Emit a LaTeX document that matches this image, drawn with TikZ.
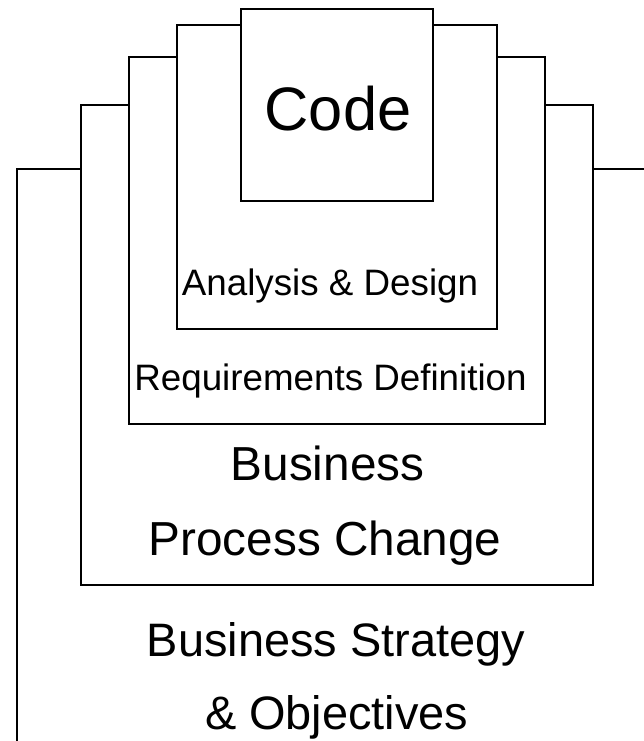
\documentclass[tikz,border=0pt]{standalone}
\usepackage{fontspec}
\setmainfont{Liberation Sans}
\tikzset{
  layer/.style={draw=black, line width=2bp, line join=miter},
  lbl/.style={anchor=base, inner sep=0pt, text=black},
  fs/.style={font=\fontsize{#1}{#1}\selectfont}
}
\begin{document}
\begin{tikzpicture}[x=1bp, y=-1bp]
\useasboundingbox (0,0) rectangle (644,741);
\clip (0,0) rectangle (644,741);
\fill[white] (0,0) rectangle (644,741);
% outermost layer
\draw[layer] (81,169) -- (17,169) -- (17,760);
\draw[layer] (593,169) -- (660,169);
% business process layer
\draw[layer] (129,105) -- (81,105) -- (81,585) -- (593,585) -- (593,105) -- (545,105);
% requirements layer
\draw[layer] (177,57) -- (129,57) -- (129,424) -- (545,424) -- (545,57) -- (497,57);
% analysis layer
\draw[layer] (241,25) -- (177,25) -- (177,329) -- (497,329) -- (497,25) -- (433,25);
% code box
\draw[layer] (241,9) rectangle (433,201);
\node[lbl, fs=61.6] (code) at (338,130) {Code};
\node[lbl, fs=36.9] (ad) at (330,295) {Analysis \& Design};
\node[lbl, fs=36.9] (rd) at (330.5,390) {Requirements Definition};
\node[lbl, fs=47.9] (bp1) at (327.5,480) {Business};
\node[lbl, fs=47.9] (bp2) at (325,555) {Process Change};
\node[lbl, fs=47.1] (bs1) at (336,656) {Business Strategy};
\node[lbl, fs=47.1] (bs2) at (336.7,729) {\& Objectives};
\end{tikzpicture}
\end{document}
